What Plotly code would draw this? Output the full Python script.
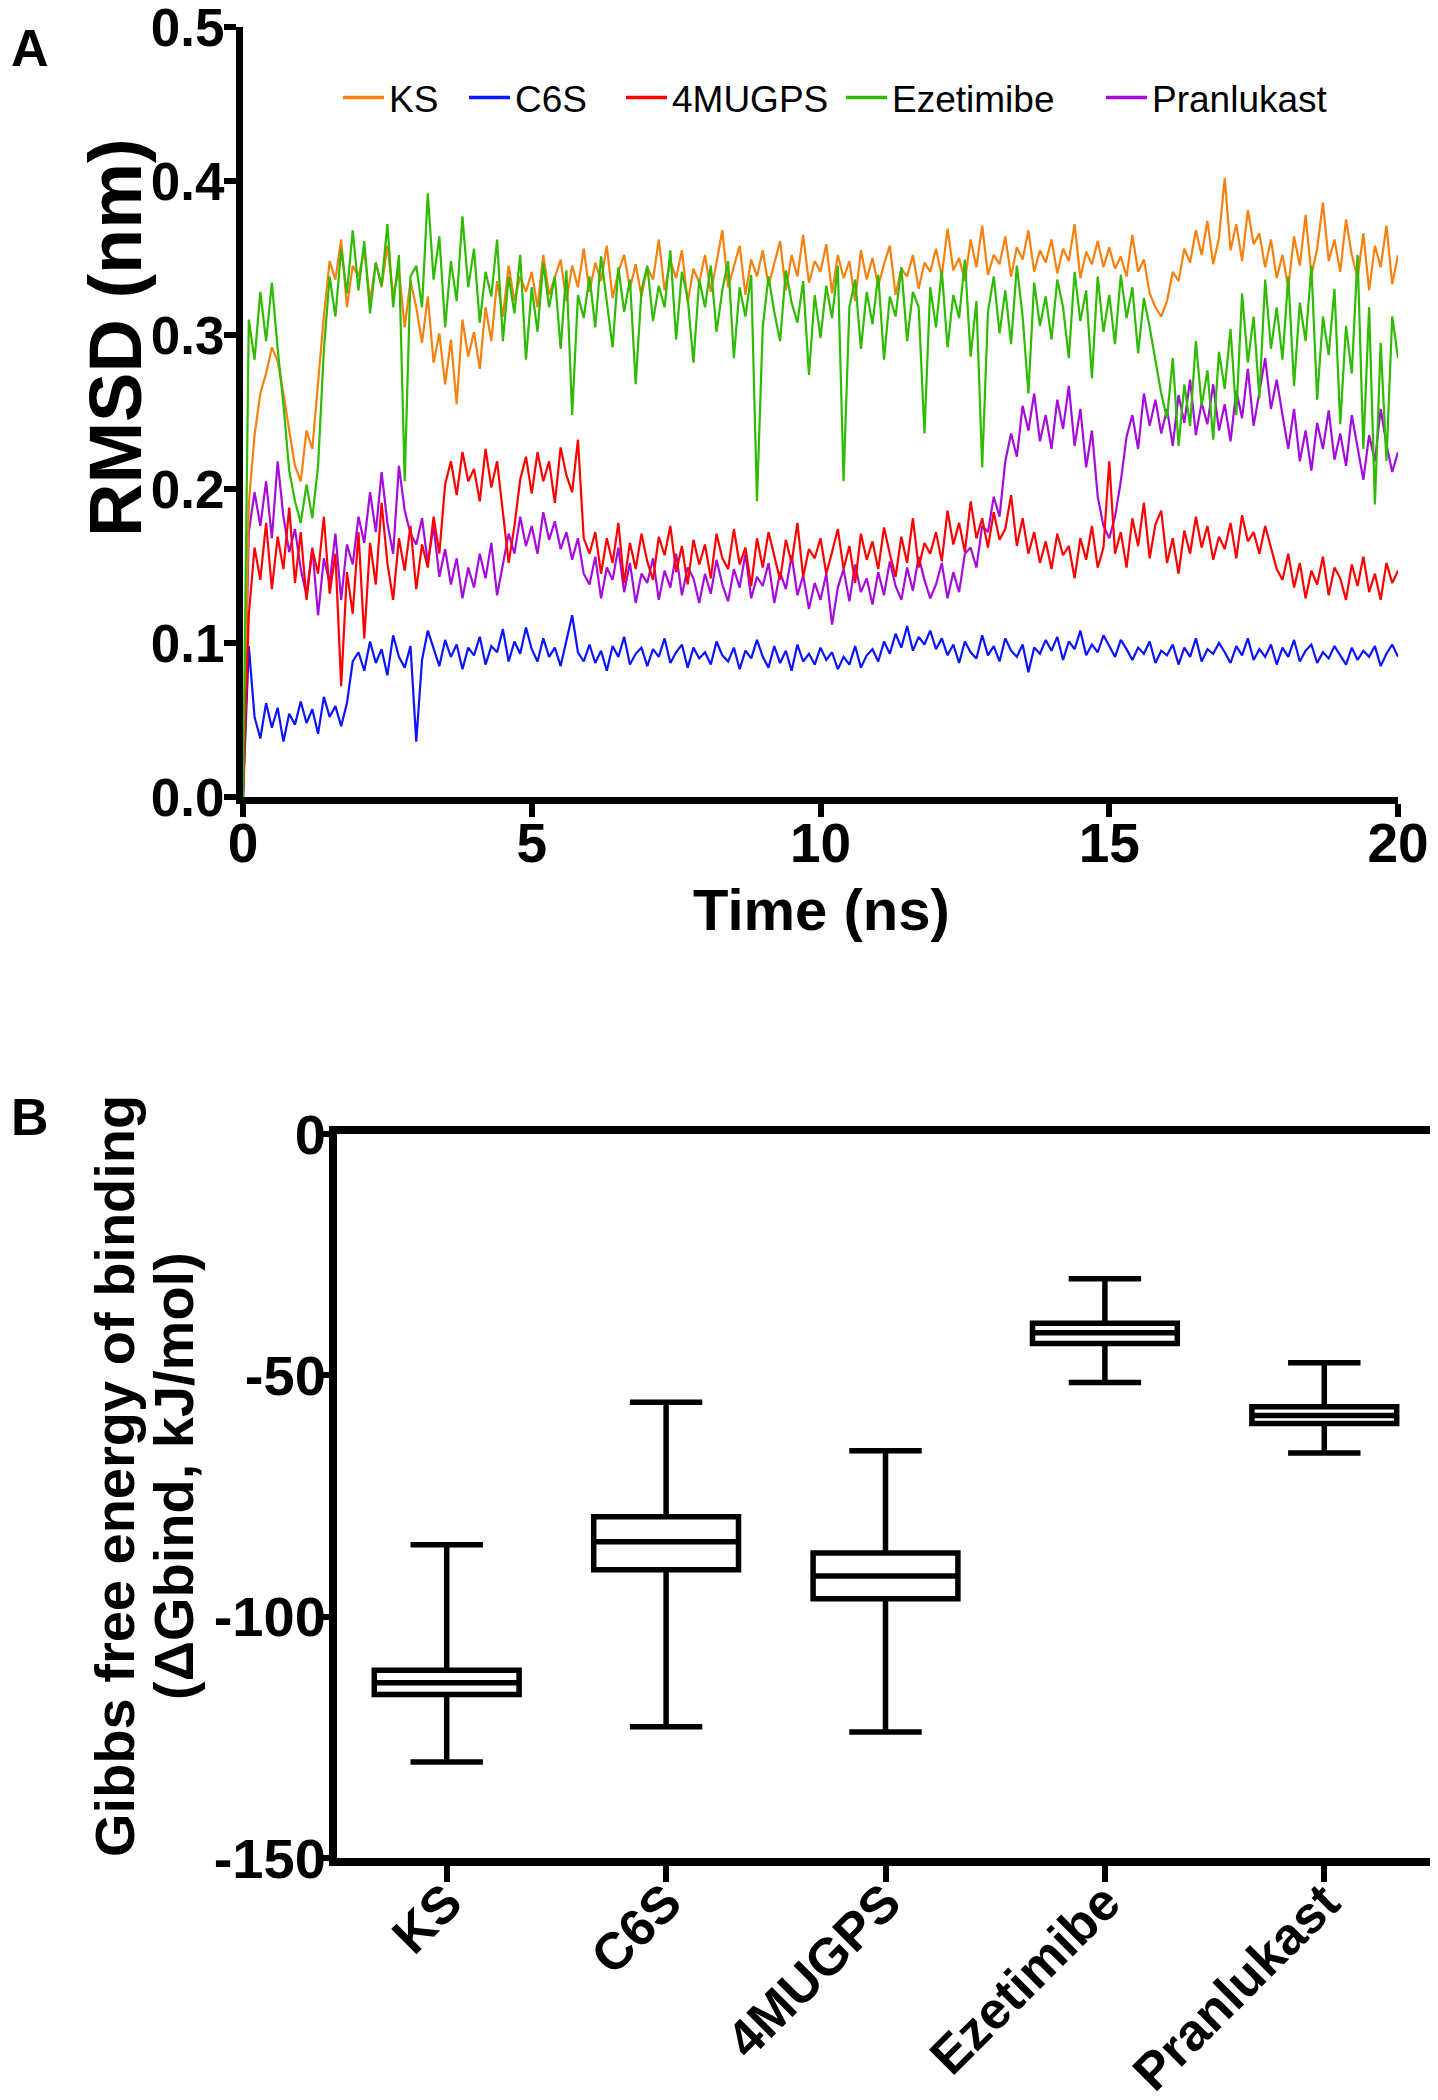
import plotly.graph_objects as go

# ---------------- Panel A data: RMSD (nm) vs time (ns), sampled every 0.1 ns ----------------
time_ns = [round(i * 0.1, 1) for i in range(201)]

rmsd_ks = [
    0.000, 0.190, 0.235, 0.262, 0.275, 0.292, 0.283, 0.262, 0.238, 0.215,
    0.205, 0.238, 0.226, 0.268, 0.312, 0.348, 0.336, 0.362, 0.318, 0.345,
    0.338, 0.355, 0.322, 0.347, 0.331, 0.358, 0.326, 0.342, 0.305, 0.335,
    0.318, 0.295, 0.325, 0.282, 0.301, 0.268, 0.297, 0.255, 0.310, 0.286,
    0.302, 0.278, 0.318, 0.296, 0.335, 0.312, 0.345, 0.322, 0.338, 0.328,
    0.341, 0.318, 0.352, 0.326, 0.337, 0.349, 0.322, 0.345, 0.331, 0.356,
    0.328, 0.347, 0.335, 0.358, 0.324, 0.341, 0.352, 0.330, 0.346, 0.325,
    0.344, 0.336, 0.362, 0.329, 0.348, 0.337, 0.355, 0.321, 0.343, 0.334,
    0.352, 0.328, 0.347, 0.368, 0.331, 0.345, 0.358, 0.326, 0.349, 0.338,
    0.355, 0.332, 0.346, 0.361, 0.329, 0.352, 0.338, 0.365, 0.334, 0.348,
    0.341, 0.359, 0.327, 0.352, 0.337, 0.348, 0.322, 0.355, 0.336, 0.350,
    0.332, 0.346, 0.358, 0.326, 0.343, 0.338, 0.352, 0.330, 0.347, 0.341,
    0.356, 0.338, 0.369, 0.342, 0.350, 0.335, 0.362, 0.344, 0.371, 0.339,
    0.352, 0.346, 0.364, 0.338, 0.357, 0.349, 0.368, 0.341, 0.355, 0.347,
    0.362, 0.340, 0.356, 0.348, 0.372, 0.337, 0.354, 0.346, 0.361, 0.344,
    0.357, 0.343, 0.351, 0.338, 0.365, 0.341, 0.349, 0.327, 0.318, 0.312,
    0.322, 0.341, 0.335, 0.356, 0.347, 0.368, 0.352, 0.374, 0.346, 0.363,
    0.402, 0.355, 0.372, 0.348, 0.381, 0.359, 0.366, 0.344, 0.362, 0.337,
    0.352, 0.331, 0.364, 0.345, 0.378, 0.339, 0.356, 0.386, 0.348, 0.362,
    0.341, 0.375, 0.352, 0.337, 0.366, 0.329, 0.358, 0.344, 0.371, 0.333,
    0.352,
]

rmsd_c6s = [
    0.000, 0.098, 0.052, 0.038, 0.061, 0.045, 0.058, 0.036, 0.054, 0.047,
    0.062, 0.048, 0.057, 0.041, 0.065, 0.052, 0.059, 0.046, 0.061, 0.088,
    0.094, 0.082, 0.101, 0.087, 0.096, 0.079, 0.105, 0.091, 0.084, 0.098,
    0.036, 0.089, 0.108, 0.096, 0.085, 0.102, 0.091, 0.099, 0.083, 0.097,
    0.092, 0.104, 0.086, 0.098, 0.094, 0.109, 0.088, 0.101, 0.093, 0.110,
    0.096, 0.088, 0.103, 0.091, 0.097, 0.085, 0.102, 0.118, 0.094, 0.088,
    0.099, 0.087, 0.095, 0.082, 0.098, 0.091, 0.104, 0.086, 0.093, 0.097,
    0.085, 0.096, 0.091, 0.103, 0.087, 0.094, 0.099, 0.084, 0.097, 0.090,
    0.094, 0.086, 0.101, 0.092, 0.088, 0.097, 0.083, 0.095, 0.090, 0.102,
    0.091, 0.084, 0.098, 0.087, 0.095, 0.082, 0.099, 0.088, 0.093, 0.086,
    0.097, 0.089, 0.094, 0.083, 0.091, 0.086, 0.098, 0.084, 0.092, 0.096,
    0.088, 0.101, 0.093, 0.106, 0.097, 0.111, 0.095, 0.104, 0.099, 0.108,
    0.096, 0.103, 0.092, 0.099, 0.087, 0.101, 0.094, 0.090, 0.105, 0.092,
    0.098, 0.088, 0.103, 0.095, 0.091, 0.099, 0.081, 0.097, 0.093, 0.102,
    0.095, 0.104, 0.089, 0.101, 0.096, 0.108, 0.092, 0.099, 0.094, 0.105,
    0.098, 0.091, 0.102, 0.096, 0.089, 0.097, 0.093, 0.101, 0.087, 0.095,
    0.092, 0.099, 0.086, 0.097, 0.091, 0.103, 0.088, 0.096, 0.093, 0.100,
    0.094, 0.087, 0.098, 0.092, 0.103, 0.089, 0.096, 0.091, 0.099, 0.086,
    0.097, 0.091, 0.102, 0.088, 0.095, 0.099, 0.087, 0.094, 0.090, 0.098,
    0.092, 0.086, 0.097, 0.089, 0.095, 0.091, 0.098, 0.085, 0.093, 0.099,
    0.091,
]

rmsd_4mugps = [
    0.000, 0.118, 0.162, 0.141, 0.178, 0.135, 0.169, 0.148, 0.188, 0.139,
    0.172, 0.128, 0.161, 0.145, 0.182, 0.132, 0.158, 0.072, 0.146, 0.119,
    0.172, 0.103, 0.165, 0.138, 0.191, 0.152, 0.128, 0.168, 0.147, 0.176,
    0.135, 0.164, 0.149, 0.182, 0.158, 0.203, 0.218, 0.196, 0.224, 0.205,
    0.213, 0.192, 0.226, 0.201, 0.218, 0.185, 0.152, 0.176, 0.206, 0.221,
    0.197, 0.224, 0.205, 0.218, 0.191, 0.227, 0.209, 0.198, 0.232, 0.168,
    0.158, 0.172, 0.145, 0.168, 0.152, 0.178, 0.139, 0.165, 0.148, 0.171,
    0.153, 0.141, 0.169, 0.157, 0.176, 0.146, 0.163, 0.138, 0.167, 0.151,
    0.164, 0.142, 0.171, 0.155, 0.148, 0.174, 0.151, 0.162, 0.137, 0.168,
    0.149, 0.172, 0.156, 0.141, 0.167, 0.152, 0.178, 0.143, 0.161, 0.155,
    0.168, 0.145, 0.159, 0.174, 0.148, 0.163, 0.139, 0.171, 0.154, 0.166,
    0.148, 0.175, 0.158, 0.143, 0.169, 0.152, 0.181, 0.149, 0.165, 0.158,
    0.172, 0.153, 0.186, 0.164, 0.178, 0.159, 0.192, 0.168, 0.181, 0.162,
    0.185, 0.167, 0.174, 0.196, 0.163, 0.181, 0.158, 0.172, 0.152, 0.166,
    0.148, 0.171, 0.157, 0.163, 0.142, 0.168, 0.154, 0.176, 0.149, 0.162,
    0.218, 0.158, 0.172, 0.149, 0.181, 0.163, 0.191, 0.155, 0.177, 0.186,
    0.152, 0.168, 0.145, 0.173, 0.158, 0.182, 0.162, 0.176, 0.154, 0.169,
    0.161, 0.178, 0.155, 0.183, 0.166, 0.172, 0.158, 0.176, 0.162, 0.148,
    0.141, 0.158, 0.136, 0.152, 0.129, 0.147, 0.138, 0.156, 0.131, 0.149,
    0.142, 0.128, 0.151, 0.137, 0.156, 0.133, 0.145, 0.128, 0.152, 0.139,
    0.147,
]

rmsd_ezetimibe = [
    0.000, 0.310, 0.284, 0.328, 0.296, 0.334, 0.291, 0.255, 0.212, 0.192,
    0.178, 0.203, 0.181, 0.215, 0.290, 0.338, 0.312, 0.356, 0.327, 0.368,
    0.329, 0.361, 0.314, 0.347, 0.332, 0.372, 0.318, 0.352, 0.205, 0.338,
    0.345, 0.318, 0.392, 0.336, 0.364, 0.305, 0.348, 0.322, 0.377, 0.331,
    0.356, 0.308, 0.341, 0.325, 0.362, 0.296, 0.338, 0.314, 0.352, 0.284,
    0.331, 0.302, 0.347, 0.318, 0.338, 0.291, 0.342, 0.248, 0.326, 0.311,
    0.338, 0.305, 0.351, 0.322, 0.292, 0.344, 0.315, 0.336, 0.268, 0.329,
    0.345, 0.309, 0.332, 0.318, 0.355, 0.297, 0.341, 0.324, 0.282, 0.336,
    0.318, 0.345, 0.302, 0.329, 0.348, 0.285, 0.331, 0.312, 0.339, 0.192,
    0.305, 0.338, 0.315, 0.296, 0.342, 0.321, 0.308, 0.335, 0.274, 0.326,
    0.298, 0.332, 0.311, 0.345, 0.205, 0.318, 0.336, 0.291, 0.328, 0.307,
    0.339, 0.284, 0.325, 0.312, 0.344, 0.296, 0.328, 0.318, 0.236, 0.331,
    0.305, 0.342, 0.292, 0.326, 0.311, 0.349, 0.286, 0.322, 0.214, 0.315,
    0.338, 0.301, 0.329, 0.294, 0.345, 0.312, 0.262, 0.334, 0.306, 0.325,
    0.297, 0.336, 0.318, 0.285, 0.341, 0.309, 0.329, 0.272, 0.338, 0.302,
    0.326, 0.294, 0.339, 0.311, 0.331, 0.288, 0.324, 0.305, 0.284, 0.262,
    0.246, 0.285, 0.228, 0.268, 0.241, 0.296, 0.254, 0.277, 0.232, 0.289,
    0.265, 0.304, 0.248, 0.327, 0.282, 0.312, 0.259, 0.336, 0.291, 0.318,
    0.284, 0.338, 0.267, 0.321, 0.296, 0.345, 0.258, 0.312, 0.287, 0.330,
    0.242, 0.306, 0.275, 0.352, 0.226, 0.318, 0.190, 0.295, 0.218, 0.312,
    0.285,
]

rmsd_pranlukast = [
    0.000, 0.172, 0.198, 0.176, 0.205, 0.168, 0.218, 0.182, 0.159, 0.174,
    0.148, 0.131, 0.162, 0.118, 0.155, 0.139, 0.171, 0.128, 0.164, 0.151,
    0.182, 0.165, 0.198, 0.172, 0.211, 0.178, 0.158, 0.215, 0.186, 0.171,
    0.164, 0.181, 0.152, 0.176, 0.143, 0.161, 0.138, 0.155, 0.129, 0.149,
    0.136, 0.158, 0.142, 0.165, 0.131, 0.152, 0.171, 0.158, 0.182, 0.163,
    0.176, 0.158, 0.185, 0.167, 0.179, 0.161, 0.172, 0.154, 0.168, 0.145,
    0.138, 0.156, 0.129, 0.149, 0.141, 0.162, 0.133, 0.152, 0.126, 0.145,
    0.139, 0.155, 0.128, 0.147, 0.136, 0.158, 0.131, 0.149, 0.142, 0.126,
    0.145, 0.132, 0.154, 0.138, 0.127, 0.148, 0.136, 0.158, 0.129, 0.143,
    0.137, 0.152, 0.126, 0.146, 0.135, 0.157, 0.131, 0.144, 0.122, 0.139,
    0.128, 0.145, 0.112, 0.136, 0.148, 0.127, 0.151, 0.133, 0.142, 0.125,
    0.146, 0.131, 0.153, 0.137, 0.128, 0.149, 0.134, 0.156, 0.141, 0.129,
    0.138, 0.152, 0.129, 0.146, 0.133, 0.158, 0.162, 0.149, 0.176, 0.172,
    0.195, 0.182, 0.218, 0.236, 0.221, 0.254, 0.238, 0.262, 0.231, 0.248,
    0.226, 0.258, 0.239, 0.267, 0.228, 0.252, 0.214, 0.238, 0.195, 0.176,
    0.168, 0.182, 0.205, 0.234, 0.248, 0.226, 0.262, 0.241, 0.258, 0.236,
    0.252, 0.228, 0.261, 0.243, 0.271, 0.235, 0.256, 0.242, 0.268, 0.238,
    0.255, 0.231, 0.264, 0.246, 0.278, 0.241, 0.262, 0.285, 0.252, 0.271,
    0.248, 0.226, 0.252, 0.218, 0.238, 0.212, 0.243, 0.226, 0.251, 0.219,
    0.236, 0.215, 0.248, 0.227, 0.206, 0.235, 0.218, 0.252, 0.229, 0.211,
    0.224,
]

series_names = ["KS", "C6S", "4MUGPS", "Ezetimibe", "Pranlukast"]
series_values = [rmsd_ks, rmsd_c6s, rmsd_4mugps, rmsd_ezetimibe, rmsd_pranlukast]
series_colors = ["#F7810E", "#0A14FF", "#FF0000", "#2EBB00", "#A50CDC"]
draw_order = [4, 0, 1, 2, 3]  # Pranlukast beneath, Ezetimibe on top

x_ticks_a = [0, 5, 10, 15, 20]
y_ticks_a = [0.0, 0.1, 0.2, 0.3, 0.4, 0.5]

# ---------------- Panel B data: binding free energy box plot (kJ/mol) ----------------
compounds = ["KS", "C6S", "4MUGPS", "Ezetimibe", "Pranlukast"]
dg_upper = [-85.1, -55.6, -65.6, -30.0, -47.4]
dg_q3 = [-111.1, -79.3, -86.8, -39.2, -56.5]
dg_median = [-113.7, -84.5, -91.6, -41.2, -58.3]
dg_q1 = [-116.1, -90.3, -96.3, -43.4, -60.0]
dg_lower = [-130.1, -122.8, -123.9, -51.5, -66.1]
y_ticks_b = [-150, -100, -50, 0]
y_ticktext_b = ["-150", "-100", "-50", "0"]

# The page places the figure 8 px in from the top-left corner of the window.
OFF = 8
W, H = 1438 - OFF, 2100 - OFF
FONT = "Liberation Sans, Arial, sans-serif"


def fx(px):
    return (px - OFF) / W


def fy(px):
    return 1 - (px - OFF) / H


# screen x (px) of the left edge of each legend entry, panel A
legend_x_px = [338, 464, 621, 841, 1101]
legend_ids = ["legend", "legend2", "legend3", "legend4", "legend5"]

fig = go.Figure()

for idx in draw_order:
    fig.add_trace(go.Scatter(
        x=time_ns, y=series_values[idx], mode="lines", name=series_names[idx],
        line=dict(color=series_colors[idx], width=2.2),
        showlegend=False, xaxis="x", yaxis="y",
    ))

# legend entries (thicker sample lines, as in the original key)
for idx in range(len(series_names)):
    fig.add_trace(go.Scatter(
        x=[None], y=[None], mode="lines", name=series_names[idx],
        line=dict(color=series_colors[idx], width=3.5),
        legend=legend_ids[idx], xaxis="x", yaxis="y",
    ))

fig.add_trace(go.Box(
    x=compounds, q1=dg_q1, median=dg_median, q3=dg_q3,
    lowerfence=dg_lower, upperfence=dg_upper,
    fillcolor="white", line=dict(color="black", width=5.5),
    whiskerwidth=0.5, width=0.66, boxpoints=False,
    showlegend=False, xaxis="x2", yaxis="y2",
))

tick_font_ax = dict(family=FONT, size=55, color="black", weight="bold")
tick_font_ay = dict(family=FONT, size=53, color="black", weight="bold")
tick_font_b = dict(family=FONT, size=56, color="black", weight="bold")
tick_font_cat = dict(family=FONT, size=52, color="black", weight="bold")

legend_common = dict(
    orientation="h", xanchor="left", y=fy(98), yanchor="middle",
    font=dict(family=FONT, size=37, color="black"),
    bgcolor="rgba(0,0,0,0)", itemwidth=41,
)
legend_layout = {}
for lid, lx in zip(legend_ids, legend_x_px):
    legend_layout[lid] = dict(legend_common, x=fx(lx))

fig.update_layout(
    width=W, height=H,
    margin=dict(l=0, r=0, t=0, b=0, autoexpand=False),
    paper_bgcolor="white", plot_bgcolor="white",
    showlegend=True,
    xaxis=dict(
        domain=[fx(243), fx(1398)], range=[0, 20], tickvals=x_ticks_a,
        showgrid=False, zeroline=False, showline=True, linecolor="black", linewidth=7,
        ticks="outside", ticklen=13, tickwidth=6, tickcolor="black",
        tickfont=tick_font_ax, anchor="y", automargin=False,
        ticklabeloverflow="allow", ticklabelstandoff=-21,
    ),
    yaxis=dict(
        domain=[fy(797), fy(27)], range=[0, 0.5], tickvals=y_ticks_a,
        tickformat=".1f",
        showgrid=False, zeroline=False, showline=True, linecolor="black", linewidth=7,
        ticks="outside", ticklen=12, tickwidth=6, tickcolor="black",
        tickfont=tick_font_ay, anchor="x", automargin=False,
        ticklabeloverflow="allow", ticklabelstandoff=-11,
    ),
    xaxis2=dict(
        domain=[fx(337), fx(1434)], range=[-0.5, 4.5], type="category",
        showgrid=False, zeroline=False, showline=True, mirror=True,
        linecolor="black", linewidth=8,
        ticks="outside", ticklen=16, tickwidth=6, tickcolor="black",
        tickangle=-45, tickfont=tick_font_cat, anchor="y2", automargin=False,
        ticklabeloverflow="allow", ticklabelstandoff=-31,
    ),
    yaxis2=dict(
        domain=[fy(1858), fy(1134)], range=[-150, 0],
        tickvals=y_ticks_b, ticktext=y_ticktext_b,
        showgrid=False, zeroline=False, showline=True, linecolor="black", linewidth=8,
        ticks="outside", ticklen=13, tickwidth=6, tickcolor="black",
        tickfont=tick_font_b, anchor="x2", automargin=False,
        ticklabeloverflow="allow", ticklabelstandoff=-21,
    ),
    **legend_layout,
)


def label(text, x, y, size, angle=0, xanchor="center"):
    fig.add_annotation(
        text=text, x=fx(x), y=fy(y), xref="paper", yref="paper",
        showarrow=False, textangle=angle, xanchor=xanchor, yanchor="middle",
        font=dict(family=FONT, size=size, color="black", weight="bold"),
    )


label("A", 9, 48, 52, xanchor="left")
label("B", 9, 1117, 52, xanchor="left")
label("RMSD (nm)", 116, 338, 74, angle=-90)
label("Time (ns)", 821, 910, 58)
label("Gibbs free energy of binding", 114, 1476, 56, angle=-90)
label("(ΔGbind, kJ/mol)", 173, 1476, 56, angle=-90)

fig.write_html("out.html")
